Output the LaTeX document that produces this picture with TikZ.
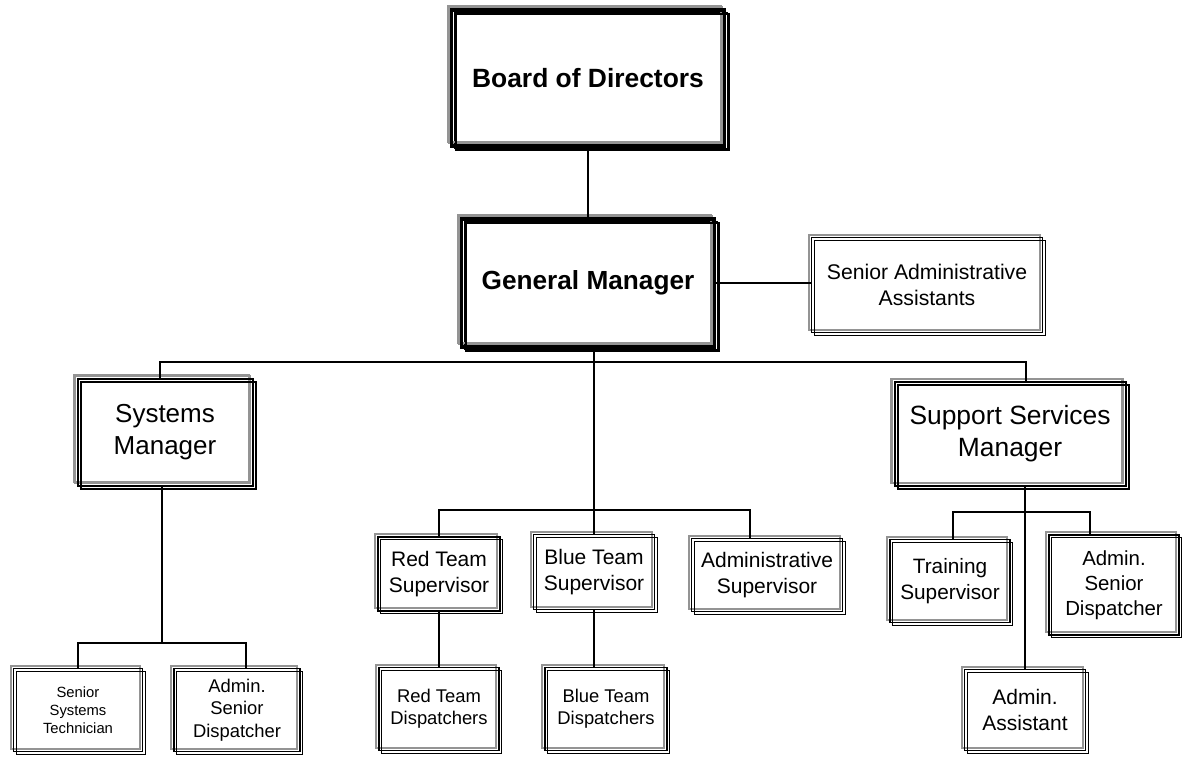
\documentclass[tikz,border=0pt]{standalone}
\usepackage{fontspec}
\setmainfont{Liberation Sans}
\usetikzlibrary{shadows}
\tikzstyle{obox}=[draw, line width=0.6pt, inner sep=0pt, align=center,
  general shadow={shadow xshift=-1.4pt, shadow yshift=1.4pt, draw=black!42, line width=0.8pt},
  general shadow={shadow xshift=1.4pt, shadow yshift=-1.4pt, draw=black, line width=0.6pt}]
\tikzstyle{mbox}=[obox, line width=1pt,
  general shadow={shadow xshift=-1.6pt, shadow yshift=1.6pt, draw=black!42, line width=1pt},
  general shadow={shadow xshift=1.6pt, shadow yshift=-1.6pt, draw=black, line width=0.9pt}]
\tikzstyle{tbox}=[obox, line width=1.7pt,
  general shadow={shadow xshift=-2pt, shadow yshift=2pt, draw=black!42, line width=1pt},
  general shadow={shadow xshift=2pt, shadow yshift=-2pt, draw=black, line width=1pt}]
\tikzstyle{orgline}=[line width=0.9pt]
\newcommand{\fsz}[1]{\fontsize{#1}{1.22\dimexpr #1pt\relax}\selectfont}

\begin{document}
\begin{tikzpicture}[x=0.5pt, y=-0.5pt, orgline]
\useasboundingbox (0,0) rectangle (1182,756);
\node[tbox, minimum width=136.5pt, minimum height=68pt, font=\fsz{13.2}\bfseries] (board) at (588,78) {Board of Directors};
\node[tbox, minimum width=126.5pt, minimum height=64pt, font=\fsz{13.1}\bfseries] (gm) at (588,283) {General Manager};
\node[obox, minimum width=115.5pt, minimum height=47.5pt, font=\fsz{10.6}] (saa) at (927,285) {Senior Administrative\\Assistants};
\node[mbox, minimum width=87.5pt, minimum height=53.5pt, font=\fsz{13}] (sm) at (165,432) {Systems\\Manager};
\node[mbox, minimum width=115.5pt, minimum height=52pt, font=\fsz{13.2}] (ssm) at (1010,434) {Support Services\\Manager};
\node[obox, minimum width=61pt, minimum height=37pt, font=\fsz{10.5}] (rts) at (439,574) {Red Team\\Supervisor};
\node[obox, minimum width=60.5pt, minimum height=37.5pt, font=\fsz{10.5}] (bts) at (594,572) {Blue Team\\Supervisor};
\node[obox, minimum width=75.5pt, minimum height=36.5pt, font=\fsz{10.5}] (asup) at (767,575) {Administrative\\Supervisor};
\node[obox, minimum width=60pt, minimum height=41.5pt, font=\fsz{10.4}] (ts) at (950,581) {Training\\Supervisor};
\node[obox, minimum width=65pt, minimum height=50pt, font=\fsz{10.2}] (asdr) at (1114,585) {Admin.\\Senior\\Dispatcher};
\node[obox, minimum width=60.5pt, minimum height=40.5pt, font=\fsz{10.5}] (aa) at (1025,710) {Admin.\\Assistant};
\node[obox, minimum width=60pt, minimum height=41.5pt, font=\fsz{9.2}] (rtd) at (439,709) {Red Team\\Dispatchers};
\node[obox, minimum width=61pt, minimum height=41.5pt, font=\fsz{9.2}] (btd) at (606,709) {Blue Team\\Dispatchers};
\node[obox, minimum width=64.5pt, minimum height=41.5pt, font=\fsz{7.4}] (sst) at (78,710) {Senior\\Systems\\Technician};
\node[obox, minimum width=63pt, minimum height=41.5pt, font=\fsz{9.2}] (asdl) at (237,710) {Admin.\\Senior\\Dispatcher};
\coordinate (b1) at (0,362);
\coordinate (b2) at (0,510);
\coordinate (b3) at (0,643);
\coordinate (b4) at (0,512);
\draw (board.south) -- (gm.north);
\draw (gm.east) -- (gm.east -| saa.west);
\draw (gm.south -| bts.north) -- (bts.north);
\draw ([xshift=-2.5pt]sm.north) -- ([xshift=-2.5pt]sm.north |- b1) -- ([xshift=8pt]ssm.north |- b1) -- ([xshift=8pt]ssm.north);
\draw (rts.north) -- (rts.north |- b2) -- ([xshift=-8.5pt]asup.north |- b2) -- ([xshift=-8.5pt]asup.north);
\draw (rts.south) -- (rtd.north);
\draw (bts.south) -- (bts.south |- btd.north);
\draw ([xshift=-1.5pt]sm.south) -- ([xshift=-1.5pt]sm.south |- b3);
\draw (sst.north) -- (sst.north |- b3) -- ([xshift=4.5pt]asdl.north |- b3) -- ([xshift=4.5pt]asdl.north);
\draw (aa.north |- ssm.south) -- (aa.north);
\draw ([xshift=1.5pt]ts.north) -- ([xshift=1.5pt]ts.north |- b4) -- ([xshift=-12pt]asdr.north |- b4) -- ([xshift=-12pt]asdr.north);
\end{tikzpicture}
\end{document}
